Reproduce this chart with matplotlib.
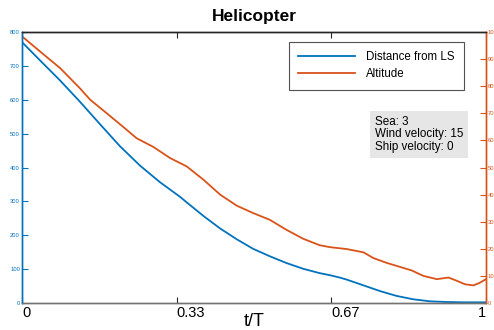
import numpy as np
import matplotlib
matplotlib.use("Agg")
import matplotlib.pyplot as plt

plt.rcParams['font.family'] = ['Liberation Sans', 'DejaVu Sans']

# distance from landing spot (left axis)
t_dist = [0.0, 0.039, 0.082, 0.125, 0.168, 0.211, 0.254, 0.297, 0.319, 0.341,
          0.355, 0.391, 0.427, 0.463, 0.498, 0.534, 0.570, 0.606, 0.642, 0.664,
          0.685, 0.700, 0.736, 0.772, 0.807, 0.843, 0.879, 0.915, 0.951, 1.0]
dist = [770, 716, 657, 594, 528, 463, 406, 357, 335, 313,
        297, 257, 220, 188, 160, 138, 118, 101, 88, 82,
        75, 69, 52, 35, 21, 11, 5, 3, 2, 2]

# altitude (right axis)
t_alt = [0.0, 0.039, 0.082, 0.125, 0.147, 0.182, 0.218, 0.247, 0.283, 0.319,
         0.355, 0.391, 0.427, 0.463, 0.498, 0.534, 0.570, 0.606, 0.642, 0.664,
         0.700, 0.736, 0.757, 0.786, 0.815, 0.840, 0.865, 0.894, 0.919, 0.937,
         0.955, 0.973, 0.987, 1.0]
alt = [98.4, 92.8, 86.7, 79.2, 75.0, 70.1, 65.0, 60.8, 57.6, 53.5,
       50.4, 45.5, 40.0, 35.9, 33.2, 30.7, 27.0, 23.7, 21.3, 20.6,
       19.9, 18.7, 16.6, 14.8, 13.3, 12.0, 10.0, 8.8, 9.4, 8.2,
       6.9, 6.5, 7.5, 8.8]

xticks = [0, 1/3, 2/3, 1]
xtick_labels = ['0', '0.33', '0.67', '1']
info = "Sea: 3\nWind velocity: 15\nShip velocity: 0"

blue = '#0072BD'
orange = '#D95319'

fig = plt.figure(figsize=(4.94, 3.30), dpi=100)
ax = fig.add_axes([22/494, 1 - 303/330, 464/494, 271/330])
ax2 = ax.twinx()

l1, = ax.plot(t_dist, dist, color=blue, lw=1.3, label='Distance from LS')
l2, = ax2.plot(t_alt, alt, color=orange, lw=1.3, label='Altitude')

ax.set_xlim(0, 1)
ax.set_ylim(0, 800)
ax2.set_ylim(0, 100)
ax.set_yticks(np.arange(0, 801, 100))
ax2.set_yticks(np.arange(0, 101, 10))

ax.set_xticks(xticks)
ax.set_xticklabels(xtick_labels, fontsize=10.5)
for lab, ha in zip(ax.get_xticklabels(), ['left', 'left', 'left', 'right']):
    lab.set_horizontalalignment(ha)
ax.tick_params(axis='x', direction='in', length=4, top=True, pad=2, color='#262626')
ax.tick_params(axis='y', direction='in', length=4, colors=blue, labelsize=4.2, pad=1.5)
ax2.tick_params(axis='y', direction='in', length=4, colors=orange, labelsize=4.2, pad=1)

for a in (ax, ax2):
    a.spines['top'].set_color('#262626')
    a.spines['bottom'].set_color('#737373')
    a.spines['left'].set_color(blue)
    a.spines['right'].set_color(orange)
    for s in a.spines.values():
        s.set_linewidth(1.0)

ax.set_xlabel('t/T', fontsize=13, labelpad=-5)
ax.set_title('Helicopter', fontsize=12.5, fontweight='bold', pad=8)

leg = ax.legend(handles=[l1, l2], loc='upper right', bbox_to_anchor=(0.9526, 0.963),
                borderaxespad=0, fontsize=8.3, frameon=True, fancybox=False,
                edgecolor='#262626', handlelength=4.9, borderpad=0.8,
                labelspacing=0.45, handletextpad=1.0)
leg.get_frame().set_linewidth(0.8)

ax2.text(0.76, 0.69, info, transform=ax.transAxes, fontsize=8.4, va='top', ha='left',
         linespacing=1.05,
         bbox=dict(boxstyle='square,pad=0.4', facecolor='#e6e6e6', edgecolor='none'))

fig.savefig('out.png', dpi=100)
